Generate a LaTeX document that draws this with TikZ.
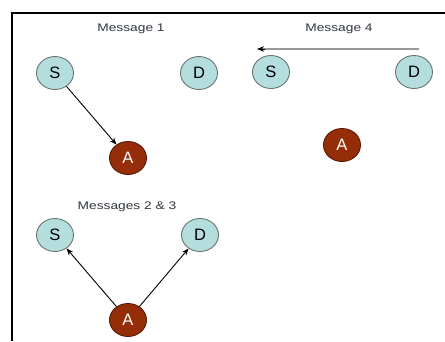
\documentclass[tikz,border=0pt]{standalone}
\usepackage{fontspec}
\setmainfont{Liberation Sans}
\usetikzlibrary{shapes.geometric,arrows.meta,calc}
\definecolor{hostfill}{HTML}{B4DEDE}
\definecolor{hostline}{HTML}{6A7474}
\definecolor{attfill}{HTML}{952E08}
\definecolor{attline}{HTML}{5A1A04}
\definecolor{msgtext}{HTML}{30363E}
\begin{document}
\begin{tikzpicture}[x=1pt,y=-1pt,
  host/.style={ellipse,draw=hostline,line width=0.9pt,fill=hostfill,
    minimum width=37pt,minimum height=33pt,inner sep=0pt,
    font=\fontsize{16.5}{16.5}\selectfont,text=black},
  attacker/.style={ellipse,draw=attline,line width=0.9pt,fill=attfill,
    minimum width=37pt,minimum height=33pt,inner sep=0pt,
    font=\fontsize{16.5}{16.5}\selectfont,text=white},
  msglabel/.style={font=\fontsize{11}{12}\selectfont,text=msgtext,xscale=1.25,inner sep=0pt},
  tipstyle/.style={-{Stealth[length=7pt,width=5.5pt]}},
  msgarrow/.style={tipstyle,line width=0.9pt,black}]
  \useasboundingbox (0,0) rectangle (445,341);
  % frame
  \draw[line width=2pt] (445,13) -- (12,13) -- (12,341);

  % Message 1: S -> A
  \node[msglabel] (m1) at (131,29) {Message 1};
  \node[host] (s1) at (55,73) {S};
  \node[host] (d1) at (199,73) {D};
  \node[attacker] (a1) at (128,158) {A};
  \draw[msgarrow] (s1) -- (a1);

  % Message 4: D -> S, thick grey shaft with a black head
  \node[msglabel] (m4) at (339,29) {Message 4};
  \node[host] (s4) at (271,72) {S};
  \node[host] (d4) at (414,72) {D};
  \node[attacker] (a4) at (342,145) {A};
  \coordinate (m4from) at (419,49);
  \coordinate (m4to) at (257,49);
  \draw[line width=1.8pt,gray!80] (m4from) -- ($(m4to)+(5,0)$);
  \draw[tipstyle,line width=0.9pt,black] ($(m4to)+(8,0)$) -- (m4to);

  % Messages 2 & 3: A -> S and A -> D
  \node[msglabel] (m23) at (127,207) {Messages 2 \& 3};
  \node[host] (s23) at (55,235) {S};
  \node[host] (d23) at (200,235) {D};
  \node[attacker] (a23) at (128,320) {A};
  \draw[msgarrow] (a23) -- (s23);
  \draw[msgarrow] (a23) -- (d23);
\end{tikzpicture}
\end{document}
